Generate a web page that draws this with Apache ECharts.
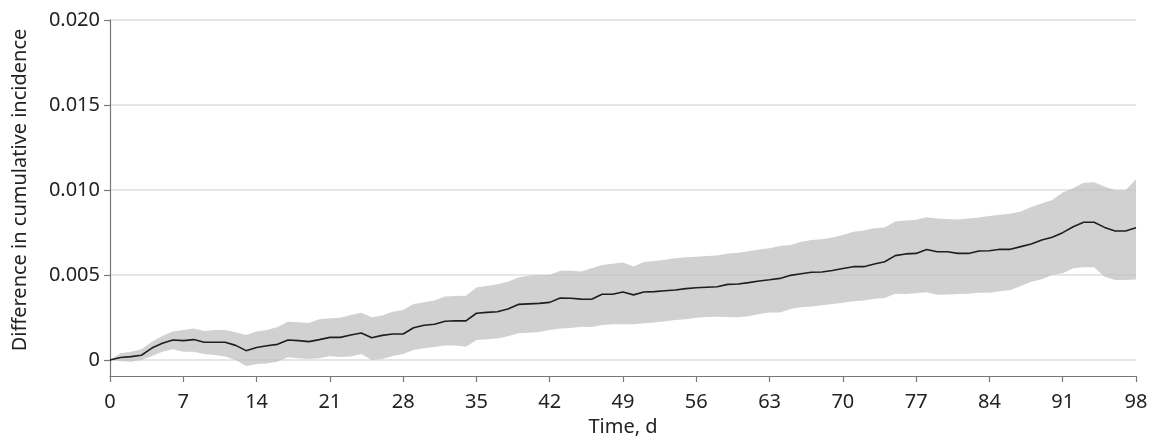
<!DOCTYPE html>
<html>
<head>
<meta charset="utf-8">
<script src="https://cdn.jsdelivr.net/npm/echarts@6/dist/echarts.min.js"></script>
<style>html,body{margin:0;padding:0;background:#fff;}#c{width:1159px;height:440px;}</style>
</head>
<body>
<div id="c"></div>
<script>
// Values in thousandths (x 0.001)
var days = [];
for (var i = 0; i <= 98; i++) days.push(i);
var estimate = [0,0.15,0.2,0.28,0.7,0.98,1.18,1.14,1.2,1.04,1.04,1.04,0.86,0.55,0.74,0.84,0.92,1.18,1.14,1.08,1.2,1.33,1.33,1.47,1.59,1.31,1.45,1.53,1.53,1.9,2.04,2.1,2.28,2.31,2.3,2.75,2.8,2.84,3.0,3.27,3.3,3.33,3.39,3.65,3.63,3.58,3.57,3.87,3.87,4.0,3.83,4.0,4.02,4.07,4.12,4.2,4.25,4.28,4.31,4.45,4.47,4.55,4.65,4.72,4.8,4.98,5.07,5.16,5.18,5.26,5.38,5.49,5.49,5.65,5.78,6.14,6.24,6.27,6.5,6.37,6.37,6.27,6.27,6.41,6.43,6.51,6.51,6.67,6.82,7.06,7.22,7.49,7.84,8.1,8.1,7.8,7.59,7.59,7.78];
var upper = [0,0.39,0.49,0.63,1.08,1.41,1.67,1.76,1.86,1.7,1.76,1.76,1.63,1.47,1.67,1.76,1.94,2.25,2.22,2.18,2.39,2.45,2.49,2.65,2.78,2.52,2.62,2.84,2.94,3.29,3.4,3.5,3.73,3.77,3.78,4.27,4.35,4.45,4.6,4.86,4.95,5.0,5.0,5.25,5.25,5.2,5.4,5.59,5.66,5.73,5.5,5.76,5.82,5.9,5.98,6.04,6.08,6.12,6.15,6.27,6.31,6.4,6.5,6.57,6.71,6.76,6.95,7.06,7.1,7.2,7.35,7.55,7.62,7.75,7.8,8.14,8.2,8.25,8.4,8.33,8.3,8.27,8.33,8.38,8.47,8.55,8.6,8.73,9.0,9.2,9.41,9.85,10.1,10.43,10.45,10.2,9.98,9.98,10.63];
var lower = [0,-0.06,-0.1,0,0.24,0.49,0.63,0.49,0.49,0.35,0.29,0.2,0,-0.35,-0.24,-0.2,-0.1,0.16,0.1,0.06,0.1,0.24,0.18,0.2,0.35,0,0.06,0.24,0.35,0.59,0.69,0.76,0.85,0.85,0.78,1.18,1.22,1.27,1.4,1.57,1.6,1.65,1.76,1.86,1.88,1.96,1.94,2.06,2.1,2.1,2.1,2.16,2.2,2.28,2.35,2.4,2.48,2.53,2.55,2.53,2.51,2.58,2.7,2.8,2.8,3.0,3.1,3.14,3.22,3.3,3.37,3.45,3.5,3.6,3.65,3.9,3.88,3.92,3.98,3.84,3.86,3.88,3.9,3.95,3.96,4.05,4.12,4.35,4.61,4.75,5.0,5.1,5.39,5.45,5.45,4.9,4.71,4.71,4.73];
var yTicks = [0, 5, 10, 15, 20];
var yLabels = ['0', '0.005', '0.010', '0.015', '0.020'];
var xTicks = [0,7,14,21,28,35,42,49,56,63,70,77,84,91,98];

var FONT = 'Noto Sans';
var FS = 20;
var LEFT = 110, RIGHT = 23, TOP = 20, H0 = 340, H1 = 356;
var yMinB = -yTicks[yTicks.length-1] * (H1 - H0) / H0;

var bandData = days.map(function(d, i){ return [d, lower[i], upper[i]]; });
var lineData = days.map(function(d, i){ return [d, estimate[i]]; });

function renderBand(params, api) {
  if (params.dataIndex !== 0) return null;
  var pts = [];
  for (var i = 0; i < days.length; i++) pts.push(api.coord([days[i], upper[i]]));
  for (var j = days.length - 1; j >= 0; j--) pts.push(api.coord([days[j], lower[j]]));
  return {
    type: 'polygon',
    shape: {points: pts},
    style: {fill: 'rgba(190,190,190,0.7)', stroke: null}
  };
}

var chart = echarts.init(document.getElementById('c'), null, {renderer: 'canvas'});
chart.setOption({
  animation: false,
  backgroundColor: '#fff',
  grid: [
    {left: LEFT, right: RIGHT, top: TOP, height: H0, containLabel: false, outerBoundsMode: 'none'},
    {left: LEFT, right: RIGHT, top: TOP, height: H1, containLabel: false, outerBoundsMode: 'none'}
  ],
  xAxis: [
    {gridIndex: 0, type: 'value', min: 0, max: 98, show: false},
    {gridIndex: 1, type: 'value', min: 0, max: 98, interval: 7,
     name: 'Time, d', nameLocation: 'middle', nameGap: 37,
     nameTextStyle: {fontFamily: FONT, fontSize: FS, color: '#222'},
     axisLine: {show: true, onZero: false, lineStyle: {color: '#777', width: 1.2}},
     axisTick: {show: true, length: 6, lineStyle: {color: '#777', width: 1.2}},
     axisLabel: {fontFamily: FONT, fontSize: FS, color: '#222', margin: 16,
       formatter: function(v){ return xTicks.indexOf(v) >= 0 ? String(v) : ''; }},
     splitLine: {show: false}}
  ],
  yAxis: [
    {gridIndex: 0, type: 'value', min: 0, max: 20, interval: 5,
     name: 'Difference in cumulative incidence', nameLocation: 'middle', nameGap: 80,
     nameTextStyle: {fontFamily: FONT, fontSize: FS, color: '#222'},
     axisLine: {show: false},
     axisTick: {show: true, length: 6, lineStyle: {color: '#777', width: 1.2}},
     axisLabel: {fontFamily: FONT, fontSize: FS, color: '#222', margin: 10,
       formatter: function(v){ var k = yTicks.indexOf(v); return k >= 0 ? yLabels[k] : ''; }},
     splitLine: {show: true, lineStyle: {color: '#dedede', width: 1.5}}},
    {gridIndex: 1, type: 'value', min: yMinB, max: 20,
     axisLine: {show: true, onZero: false, lineStyle: {color: '#777', width: 1.2}},
     axisTick: {show: false}, axisLabel: {show: false}, splitLine: {show: false}}
  ],
  series: [
    {type: 'custom', xAxisIndex: 1, yAxisIndex: 1, data: bandData,
     encode: {x: 0, y: [1, 2]}, renderItem: renderBand, silent: true, z: 2},
    {type: 'line', xAxisIndex: 1, yAxisIndex: 1, data: lineData, symbol: 'none',
     lineStyle: {color: '#1e1e1e', width: 1.6}, z: 5}
  ]
});
</script>
</body>
</html>
